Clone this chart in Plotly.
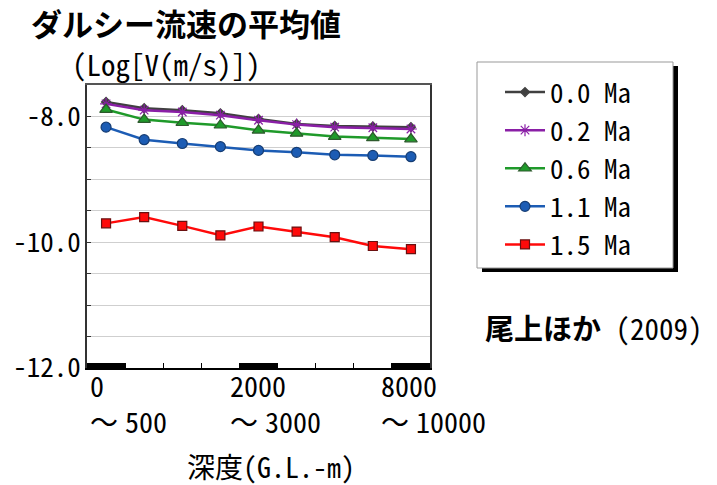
import plotly.graph_objects as go

# ---- data ----
depth_index = [0, 1, 2, 3, 4, 5, 6, 7, 8]
series_names = ["0.0 Ma", "0.2 Ma", "0.6 Ma", "1.1 Ma", "1.5 Ma"]
v_00 = [-7.77, -7.87, -7.90, -7.95, -8.04, -8.12, -8.15, -8.16, -8.17]
v_02 = [-7.80, -7.90, -7.93, -7.98, -8.06, -8.13, -8.17, -8.18, -8.20]
v_06 = [-7.89, -8.05, -8.10, -8.14, -8.22, -8.27, -8.32, -8.34, -8.36]
v_11 = [-8.17, -8.37, -8.43, -8.48, -8.54, -8.57, -8.61, -8.62, -8.64]
v_15 = [-9.70, -9.60, -9.74, -9.89, -9.75, -9.83, -9.92, -10.06, -10.11]
y_tick_vals = [-12.0, -11.5, -11.0, -10.5, -10.0, -9.5, -9.0, -8.5, -8.0, -7.5]
y_tick_text = ["-12.0", "", "", "", "-10.0", "", "", "", "-8.0", ""]
labeled_depths = [0, 4, 8]
depth_labels = ["0<br>～\u2005500", "2000<br>～\u20053000", "8000<br>～\u200510000"]

# ---- style ----
FONT = "Noto Sans Mono CJK JP, Noto Sans CJK JP, sans-serif"
styles = [
    dict(color="#404040", symbol="diamond", size=7, lw="#404040"),
    dict(color="#8a1fa6", symbol="asterisk-open", size=10, lw="#8a1fa6"),
    dict(color="#1f9a2a", symbol="triangle-up", size=11, lw="#2d5a2d"),
    dict(color="#1c5cb4", symbol="circle", size=10, lw="#163d73"),
    dict(color="#ff0a0a", symbol="square", size=9, lw="#6a1010"),
]
label_shift = [1, -11, -13]

fig = go.Figure()
for name, vals, st in zip(series_names, [v_00, v_02, v_06, v_11, v_15], styles):
    fig.add_trace(go.Scatter(
        x=depth_index, y=vals, name=name, mode="lines+markers",
        line=dict(color=st["color"], width=2.5),
        marker=dict(symbol=st["symbol"], size=st["size"], color=st["color"],
                    line=dict(color=st["lw"], width=1.2)),
    ))

# black highlight bars along the bottom for labelled depth categories
for i in labeled_depths:
    fig.add_shape(type="rect", xref="x", yref="paper", x0=i - 0.5, x1=i + 0.5,
                  y0=0, y1=0.018, fillcolor="black", line=dict(width=0), layer="above")

# depth labels
for i, txt, sh in zip(labeled_depths, depth_labels, label_shift):
    fig.add_annotation(x=i - 0.5, y=-0.122, xref="x", yref="paper", text=txt,
                       showarrow=False, xanchor="left", yanchor="middle", align="left",
                       xshift=sh, font=dict(family=FONT, size=28, color="black"))

# titles / texts
fig.add_annotation(x=-0.168, y=1.222, xref="paper", yref="paper",
                   text="<b>ダルシー流速の平均値</b>", showarrow=False,
                   xanchor="left", yanchor="middle",
                   font=dict(family=FONT, size=31, color="black"))
fig.add_annotation(x=-0.05, y=1.079, xref="paper", yref="paper",
                   text="(Log[V(m/s)])", showarrow=False,
                   xanchor="left", yanchor="middle",
                   font=dict(family=FONT, size=29, color="black"))
fig.add_annotation(x=1.155, y=0.145, xref="paper", yref="paper",
                   text="<b>尾上ほか</b> (2009)", showarrow=False,
                   xanchor="left", yanchor="middle",
                   font=dict(family=FONT, size=29, color="black"))
fig.add_annotation(x=0.286, y=-0.345, xref="paper", yref="paper",
                   text="深度(G.L.-m)", showarrow=False,
                   xanchor="left", yanchor="middle",
                   font=dict(family=FONT, size=28, color="black"))

# legend shadow and box
fig.add_shape(type="rect", xref="paper", yref="paper",
              x0=(482 - 87) / 343, x1=(678 - 87) / 343,
              y0=(368 - 272) / 283, y1=(368 - 66) / 283,
              fillcolor="black", line=dict(width=0), layer="above")
fig.add_shape(type="rect", xref="paper", yref="paper",
              x0=(477 - 87) / 343, x1=(673 - 87) / 343,
              y0=(368 - 268) / 283, y1=(368 - 62) / 283,
              fillcolor="white", line=dict(width=1, color="#999999"), layer="above")

fig.update_layout(
    width=717, height=485,
    margin=dict(l=87, r=287, t=85, b=117, autoexpand=False),
    paper_bgcolor="white", plot_bgcolor="white",
    font=dict(family=FONT, size=29, color="black"),
    showlegend=True,
    legend=dict(x=(500 - 87) / 343, y=(368 - 68) / 283, xanchor="left", yanchor="top",
                bgcolor="rgba(0,0,0,0)", borderwidth=0,
                font=dict(family=FONT, size=27, color="black"),
                tracegroupgap=0, itemwidth=40),
    xaxis=dict(range=[-0.5, 8.5], tickvals=[k + 0.5 for k in range(-1, 9)],
               showticklabels=False, ticks="inside", ticklen=5, tickcolor="black",
               showgrid=False, zeroline=False, showline=True, linecolor="black",
               linewidth=2, mirror=False, automargin=False),
    xaxis2=dict(overlaying="x", range=[-0.5, 8.5], showticklabels=False,
                showgrid=False, zeroline=False, showline=True, linecolor="#555555",
                linewidth=1.5, side="top", visible=True, ticks="", automargin=False),
    yaxis=dict(range=[-12, -7.5], tickvals=y_tick_vals, ticktext=y_tick_text,
               ticks="inside", ticklen=4, tickcolor="#333333",
               showgrid=True, gridcolor="#cfcfcf", gridwidth=1,
               zeroline=False, showline=True, linecolor="#333333", linewidth=1.5,
               mirror=True, tickfont=dict(family=FONT, size=27, color="black"),
               ticklabelstandoff=-1, automargin=False),
)
fig.add_trace(go.Scatter(x=[None], y=[None], xaxis="x2", showlegend=False, hoverinfo="skip"))

fig.write_html("out.html")
